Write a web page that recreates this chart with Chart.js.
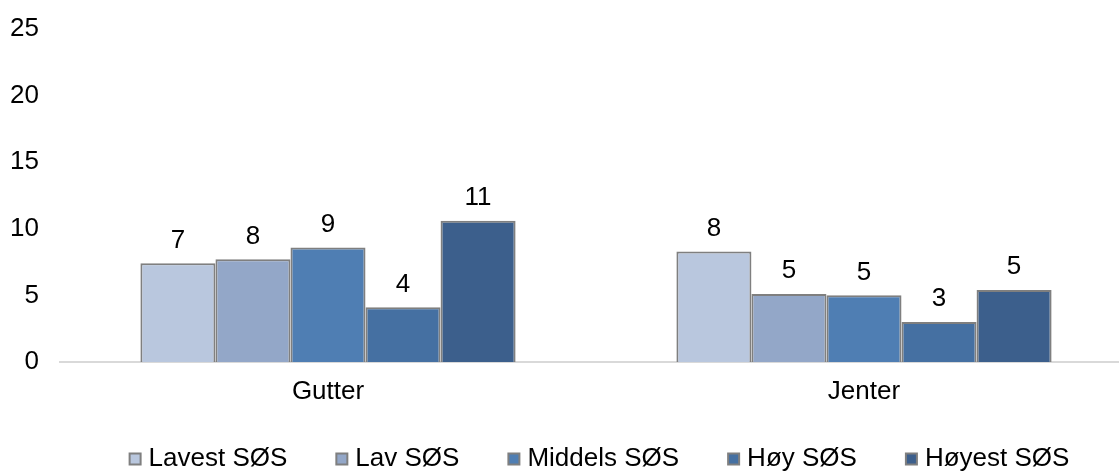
<!DOCTYPE html>
<html>
<head>
<meta charset="utf-8">
<script src="https://cdn.jsdelivr.net/npm/chart.js@4/dist/chart.umd.min.js"></script>
<style>
html,body{margin:0;padding:0;background:#fff;overflow:hidden;}
canvas{display:block;}
</style>
</head>
<body>
<canvas id="c" width="1132" height="472"></canvas>
<script>
const categories = ["Gutter", "Jenter"];
const seriesNames = ["Lavest SØS", "Lav SØS", "Middels SØS", "Høy SØS", "Høyest SØS"];
const lavest  = [7.4, 8.3];
const lav     = [7.7, 5.1];
const middels = [8.6, 5.0];
const hoy     = [4.1, 3.0];
const hoyest  = [10.6, 5.4];
const yTicks  = [0, 5, 10, 15, 20, 25];

const seriesValues = [lavest, lav, middels, hoy, hoyest];
const colors = ["#B9C7DE", "#93A7C8", "#4F7EB3", "#4570A2", "#3C5F8C"];
const FONT = "'Liberation Sans', Arial, sans-serif";
const FS = 26;
const LEG_PAD = 54;

const valueLabels = {
  id: 'valueLabels',
  afterDatasetsDraw(chart) {
    const ctx = chart.ctx;
    ctx.save();
    ctx.font = FS + "px " + FONT;
    ctx.fillStyle = "#000";
    ctx.textAlign = "center";
    ctx.textBaseline = "middle";
    chart.data.datasets.forEach((ds, i) => {
      const meta = chart.getDatasetMeta(i);
      meta.data.forEach((bar, j) => {
        ctx.fillText(String(Math.round(ds.data[j])), bar.x, bar.y - 23);
      });
    });
    ctx.restore();
  }
};

const legendPlace = {
  id: 'legendPlace',
  afterLayout(chart) {
    const lg = chart.legend;
    if (lg) {
      lg.left += 6; lg.right += 6;
      lg.top = 459 - FS / 2 - LEG_PAD;
      lg.bottom = chart.height;
    }
  }
};

new Chart(document.getElementById('c'), {
  type: 'bar',
  data: {
    labels: categories,
    datasets: seriesNames.map((n, i) => ({
      label: n,
      data: seriesValues[i],
      backgroundColor: colors[i],
      borderColor: "#7F7F7F",
      borderWidth: 2,
      borderSkipped: 'bottom',
      categoryPercentage: 0.70,
      barPercentage: 1.0,
      pointStyle: 'rect'
    }))
  },
  options: {
    responsive: false,
    animation: false,
    devicePixelRatio: 1,
    layout: { padding: 0 },
    plugins: {
      tooltip: { enabled: false },
      legend: {
        position: 'bottom',
        fullSize: false,
        maxHeight: 65,
        labels: {
          font: { family: FONT, size: FS },
          color: "#000",
          usePointStyle: true,
          pointStyle: 'rect',
          boxWidth: 1,
          boxHeight: 11,
          padding: LEG_PAD
        }
      }
    },
    scales: {
      x: {
        grid: { display: false, drawTicks: false },
        border: { display: true, color: "#D9D9D9", width: 2 },
        ticks: { font: { family: FONT, size: FS }, color: "#000", padding: 14 },
        afterFit(scale) { scale.height = 45; }
      },
      y: {
        min: 0, max: 25,
        afterBuildTicks(scale) { scale.ticks = yTicks.map(v => ({ value: v })); },
        grid: { display: false, drawTicks: false },
        border: { display: false },
        ticks: { font: { family: FONT, size: FS, lineHeight: 0.6 }, color: "#000", padding: 21 },
        afterFit(scale) { scale.width = 60; }
      }
    }
  },
  plugins: [valueLabels, legendPlace]
});
</script>
</body>
</html>
